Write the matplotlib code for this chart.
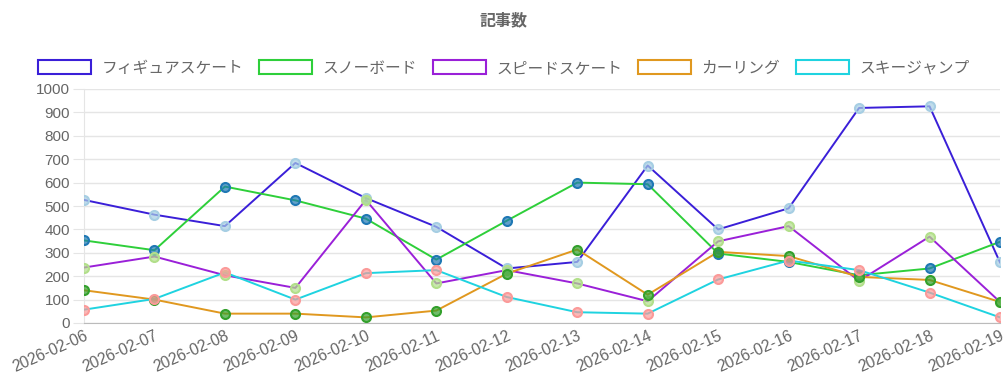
import matplotlib
matplotlib.use('Agg')
import matplotlib.pyplot as plt
from matplotlib.colors import to_rgba
from matplotlib.patches import Rectangle

plt.rcParams['font.family'] = ['Liberation Sans', 'Noto Sans CJK JP', 'DejaVu Sans']

dates = ['2026-02-06', '2026-02-07', '2026-02-08', '2026-02-09', '2026-02-10',
         '2026-02-11', '2026-02-12', '2026-02-13', '2026-02-14', '2026-02-15',
         '2026-02-16', '2026-02-17', '2026-02-18', '2026-02-19']

figure_skating = [526, 463, 414, 684, 534, 411, 233, 261, 673, 400, 490, 919, 926, 259]
snowboard = [353, 311, 583, 524, 446, 271, 437, 600, 593, 297, 261, 204, 233, 347]
speed_skating = [237, 284, 204, 150, 526, 169, 226, 169, 93, 349, 414, 180, 369, 90]
curling = [140, 100, 40, 40, 24, 53, 211, 314, 121, 304, 286, 197, 184, 90]
ski_jump = [57, 103, 216, 100, 213, 226, 111, 46, 40, 186, 267, 226, 130, 24]

series = ['フィギュアスケート', 'スノーボード', 'スピードスケート', 'カーリング', 'スキージャンプ']
values = [figure_skating, snowboard, speed_skating, curling, ski_jump]
line_colors = ['#3a1fd8', '#2ecf3a', '#9a20d8', '#e0981f', '#1fd3e0']
point_colors = ['#a6cee3', '#1f78b4', '#b2df8a', '#33a02c', '#fb9a99']

fig = plt.figure(figsize=(10.08, 3.77), dpi=100)
ax = fig.add_axes([84 / 1008, 1 - 323 / 377, 916 / 1008, 234 / 377])

x = list(range(len(dates)))
for vals, lc, pc in zip(values, line_colors, point_colors):
    ax.plot(x, vals, color=lc, linewidth=1.4, zorder=3)
    ax.scatter(x, vals, s=42, facecolors=[to_rgba(pc, 0.7)], edgecolors=pc,
               linewidths=1.5, zorder=4)

ax.set_xlim(0, len(dates) - 1)
ax.set_ylim(0, 1000)
ax.set_yticks(range(0, 1001, 100))
ax.set_xticks(x)
ax.set_xticklabels(dates, rotation=24, ha='right', va='top', rotation_mode='anchor')
ax.tick_params(axis='y', colors='#e5e5e5', labelcolor='#666666',
               labelsize=11, length=8, pad=2)
ax.tick_params(axis='x', length=0, pad=4, labelcolor='#666666', labelsize=11.3)
ax.grid(axis='y', color='#e5e5e5', linewidth=1)
ax.set_axisbelow(True)
for side in ['top', 'right']:
    ax.spines[side].set_visible(False)
ax.spines['left'].set_color('#e5e5e5')
ax.spines['bottom'].set_color('#bbbbbb')

fig.text(0.5, 1 - 20 / 377, '記事数', ha='center', va='center',
         fontsize=11.5, fontweight='bold', color='#666666')

handles = [Rectangle((0, 0), 1, 1, facecolor='white', edgecolor=c, linewidth=1.5)
           for c in line_colors]
fig.legend(handles, series, loc='center', bbox_to_anchor=(0.5, 1 - 68 / 377),
           ncol=5, frameon=False, fontsize=11.3, labelcolor='#666666',
           handlelength=3.4, handleheight=1.0, handletextpad=0.65,
           columnspacing=1.0, borderaxespad=0)

fig.savefig('out.png', dpi=100)
